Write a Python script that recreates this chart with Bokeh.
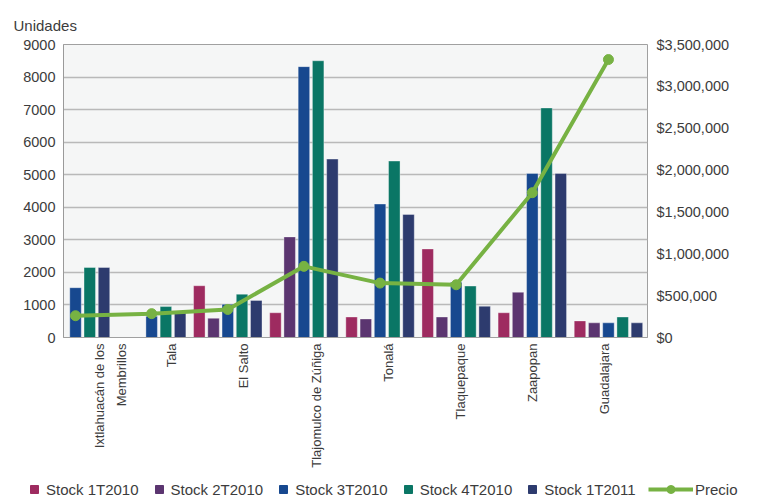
import math
from bokeh.plotting import figure
from bokeh.layouts import column
from bokeh.models import (Range1d, LinearAxis, FixedTicker, SingleIntervalTicker, Legend,
                          LegendItem, NumeralTickFormatter, ColumnDataSource, Title)
from bokeh.embed import file_html
from bokeh.resources import INLINE

categories = ["Ixtlahuacán de los\nMembrillos", "Tala", "El Salto", "Tlajomulco de Zúñiga",
              "Tonalá", "Tlaquepaque", "Zaapopan", "Guadalajara"]
series_names = ["Stock 1T2010", "Stock 2T2010", "Stock 3T2010", "Stock 4T2010", "Stock 1T2011"]
stock_1t2010 = [0, 0, 1590, 760, 630, 2720, 760, 510]
stock_2t2010 = [0, 0, 590, 3090, 570, 630, 1390, 450]
stock_3t2010 = [1530, 650, 1020, 8320, 4100, 1700, 5040, 450]
stock_4t2010 = [2150, 950, 1330, 8500, 5420, 1580, 7050, 630]
stock_1t2011 = [2150, 750, 1140, 5480, 3780, 960, 5040, 450]
precio = [260000, 285000, 335000, 850000, 650000, 630000, 1730000, 3320000]

colors = ["#9e2b60", "#5b3570", "#17488f", "#0a7665", "#2d3b6e"]
green = "#77b243"
FONT = "Liberation Sans"
TXT = "#3c3c3c"

idx = list(range(len(categories)))
all_series = [stock_1t2010, stock_2t2010, stock_3t2010, stock_4t2010, stock_1t2011]

W = 758
LEG_H = 20
MAIN_H = 499 - LEG_H
FRAME_BOTTOM = 337

p = figure(width=W, height=MAIN_H, output_backend="svg", toolbar_location=None,
           x_range=Range1d(-0.158, 7.513), y_range=Range1d(0, 9000),
           x_axis_type=None,
           min_border_left=63, min_border_right=W - 647, min_border_top=44,
           min_border_bottom=MAIN_H - FRAME_BOTTOM,
           background_fill_color="#f5f6f6", border_fill_color="white")
p.outline_line_color = "#a0a0a0"
p.outline_line_width = 1

p.title = Title(text="Unidades", align="left", offset=-50, standoff=22,
                text_font=FONT, text_font_size="15px", text_font_style="normal",
                text_color=TXT)

p.extra_y_ranges = {"price": Range1d(0, 3500000)}
p.extra_x_ranges = {"labels": Range1d(0, 8.09)}

# left axis
ya = p.yaxis[0]
ya.ticker = SingleIntervalTicker(interval=1000, num_minor_ticks=0)
ya.major_tick_line_color = None
ya.minor_tick_line_color = None
ya.major_tick_out = 0
ya.minor_tick_out = 0
ya.axis_line_color = "#9a9a9a"
ya.major_label_text_font = FONT
ya.major_label_text_font_size = "14.5px"
ya.major_label_text_color = TXT
ya.major_label_standoff = 8
p.ygrid.grid_line_color = "#b9b9b9"
p.ygrid.grid_line_width = 1.5

# right axis
ra = LinearAxis(y_range_name="price",
                ticker=SingleIntervalTicker(interval=500000, num_minor_ticks=0),
                formatter=NumeralTickFormatter(format="$0,0"))
ra.major_tick_line_color = None
ra.minor_tick_line_color = None
ra.major_tick_out = 0
ra.minor_tick_out = 0
ra.axis_line_color = None
ra.major_label_text_font = FONT
ra.major_label_text_font_size = "14.5px"
ra.major_label_text_color = TXT
ra.major_label_standoff = 9
p.add_layout(ra, "right")

# bottom category axis
label_pos = [i + 0.5 for i in idx]
label_pos[0] += 0.15  # two-line label sits a little to the right
ba = LinearAxis(x_range_name="labels",
                ticker=FixedTicker(ticks=label_pos),
                major_label_overrides={pos: c for pos, c in zip(label_pos, categories)})
ba.major_label_orientation = math.pi / 2
ba.major_tick_line_color = None
ba.minor_tick_line_color = None
ba.major_tick_out = 0
ba.minor_tick_out = 0
ba.axis_line_color = "#a0a0a0"
ba.major_label_text_font = FONT
ba.major_label_text_font_size = "13px"
ba.major_label_text_color = TXT
ba.major_label_text_line_height = 1.5
ba.major_label_standoff = 6
p.add_layout(ba, "below")

# bars
slot = 0.187
bw = 0.151
for k, (vals, col) in enumerate(zip(all_series, colors)):
    src = ColumnDataSource(dict(x=[i + (k - 2) * slot for i in idx], top=vals))
    p.vbar(x="x", top="top", width=bw, bottom=0, source=src, fill_color=col,
           line_color="white", line_alpha=0.35, line_width=1)

# price line
psrc = ColumnDataSource(dict(x=idx, y=precio))
p.line("x", "y", source=psrc, y_range_name="price", line_color=green, line_width=4)
p.scatter("x", "y", source=psrc, y_range_name="price", marker="circle", size=10,
          fill_color=green, line_color=green)

# ---- legend strip (separate figure so it can span the full width) ----
lf = figure(width=W, height=LEG_H, output_backend="svg", toolbar_location=None,
            x_range=Range1d(-100, -99), y_range=Range1d(-100, -99),
            x_axis_type=None, y_axis_type=None,
            min_border_left=0, min_border_right=0, min_border_top=0, min_border_bottom=0,
            background_fill_color="white", border_fill_color="white")
lf.outline_line_color = None
lf.xgrid.visible = False
lf.ygrid.visible = False
for fig in (p, lf):
    try:
        fig.frame_align = False
    except Exception:
        pass

items = []
for name, vals, col in zip(series_names, all_series, colors):
    r = lf.scatter(x=idx, y=vals, marker="square", fill_color=col, line_color=col)
    items.append(LegendItem(label=name, renderers=[r]))
lr = lf.line(x=idx, y=precio, line_color=green, line_width=4)
lsr = lf.scatter(x=idx, y=precio, marker="circle", fill_color=green, line_color=green)

common = dict(orientation="horizontal", padding=0, margin=0, border_line_alpha=0,
              background_fill_alpha=0, label_text_font=FONT, label_text_font_size="15px",
              label_text_color=TXT, glyph_height=20, label_standoff=2)
leg1 = Legend(items=items, glyph_width=20, spacing=10, location=(24, 0), **common)
leg2 = Legend(items=[LegendItem(label="Precio", renderers=[lr, lsr])], glyph_width=45,
              spacing=0, location=(648, 0), **common)
lf.add_layout(leg1, "center")
lf.add_layout(leg2, "center")

layout = column(p, lf, spacing=0)
open("out.html", "w").write(file_html(layout, INLINE))
